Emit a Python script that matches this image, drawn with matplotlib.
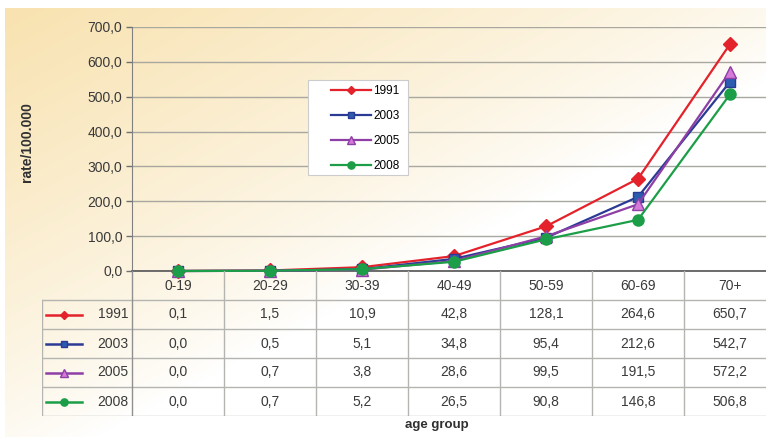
import matplotlib.pyplot as plt
import numpy as np
from matplotlib.patches import Rectangle

plt.rcParams['font.family'] = ['Liberation Sans', 'DejaVu Sans']

# incidence per 100.000 by age group
age_groups = ['0-19', '20-29', '30-39', '40-49', '50-59', '60-69', '70+']
years = ['1991', '2003', '2005', '2008']
rate_1991 = [0.1, 1.5, 10.9, 42.8, 128.1, 264.6, 650.7]
rate_2003 = [0.0, 0.5, 5.1, 34.8, 95.4, 212.6, 542.7]
rate_2005 = [0.0, 0.7, 3.8, 28.6, 99.5, 191.5, 572.2]
rate_2008 = [0.0, 0.7, 5.2, 26.5, 90.8, 146.8, 506.8]
rates = [rate_1991, rate_2003, rate_2005, rate_2008]

styles = [
    dict(color='#e3222b', marker='D', markersize=7, mfc='#e3222b', mec='#e3222b'),
    dict(color='#2b3a94', marker='s', markersize=7, mfc='#2b5cb0', mec='#2b3a94'),
    dict(color='#8e3fa6', marker='^', markersize=8, mfc='#d57ad8', mec='#8e3fa6'),
    dict(color='#1c9e48', marker='o', markersize=8, mfc='#1c9e48', mec='#1c9e48'),
]

def fmt(v):
    return f'{v:.1f}'.replace('.', ',')

W, H = 766, 437
fig = plt.figure(figsize=(W / 100, H / 100), dpi=100)

# cream to white background wash
bg = fig.add_axes([5 / W, 0, 1 - 5 / W, 1 - 8 / H], zorder=-10)
gx, gy = np.meshgrid(np.linspace(0, 1, 300), np.linspace(0, 1, 200))
w = np.clip(1 - 0.85 * gx - 0.9 * gy, 0, 1) ** 0.8
base = np.array([248, 226, 176]) / 255
img = (1 - w[..., None]) * np.ones(3) + w[..., None] * base
bg.imshow(img, aspect='auto', extent=[0, 1, 0, 1], origin='upper')
bg.axis('off')

# geometry in pixels
left, right, top, bottom = 132, 776, 27, 271
col_w = (right - left) / len(age_groups)
lab_left = 42
tab_bottom = 416
txt = '#3a3a3a'

ax = fig.add_axes([left / W, (H - bottom) / H, (right - left) / W, (bottom - top) / H])
ax.set_facecolor('none')
x = np.arange(len(age_groups))
for yr, r, st in zip(years, rates, styles):
    ax.plot(x, r, linewidth=1.6, label=yr, clip_on=False, zorder=3, **st)

ax.set_xlim(-0.5, len(age_groups) - 0.5)
ax.set_ylim(0, 700)
ax.set_yticks(np.arange(0, 701, 100))
ax.set_yticklabels([fmt(v) for v in np.arange(0, 701, 100)])
ax.set_xticks([])
ax.yaxis.grid(True, color='#a8a8a0', linewidth=1)
ax.set_axisbelow(True)
ax.tick_params(axis='y', length=4, width=1, color='#707070', pad=3,
               labelsize=10, labelcolor=txt)
for s in ['top', 'right']:
    ax.spines[s].set_visible(False)
ax.spines['left'].set_color('#808080')
ax.spines['bottom'].set_color('#606060')
ax.spines['bottom'].set_linewidth(1.3)

fig.text(27 / W, 1 - 142 / H, 'rate/100.000', rotation=90, ha='center', va='center',
         fontsize=10, fontweight='bold', color='#303030')

# legend box
ax.add_patch(Rectangle((308 / W, 1 - 175 / H), 100 / W, 95 / H,
                       transform=fig.transFigure, facecolor='white',
                       edgecolor='#cccccc', linewidth=0.8, zorder=5, clip_on=False))
leg = ax.legend(loc='upper left', bbox_to_anchor=(331 / W, 1 - 85 / H),
                bbox_transform=fig.transFigure, frameon=False, fontsize=8.5,
                handlelength=3.4, labelspacing=1.1, borderpad=0, handletextpad=0.2,
                markerscale=0.65, borderaxespad=0)
leg.set_zorder(6)

# data table under the plot
lab_w = (left - lab_left) / col_w
tax = fig.add_axes([lab_left / W, (H - tab_bottom) / H, (right - lab_left) / W,
                    (tab_bottom - bottom) / H])
tax.set_facecolor('none')
tax.set_xlim(-0.5 - lab_w, len(age_groups) - 0.5)
tax.set_ylim(len(years) + 1, 0)
tax.axis('off')
gc = '#b4b4b0'
for j in range(1, len(years) + 2):
    tax.plot([-0.5 - lab_w, len(age_groups) - 0.5], [j, j], color=gc, lw=1)
tax.plot([-0.5 - lab_w] * 2, [1, len(years) + 1], color=gc, lw=1)
tax.plot([-0.5, -0.5], [0, len(years) + 1], color='#909090', lw=1)
for i in range(1, len(age_groups)):
    tax.plot([i - 0.5] * 2, [0, len(years) + 1], color=gc, lw=1)
for i, g in enumerate(age_groups):
    tax.text(i, 0.5, g, ha='center', va='center', fontsize=10, color=txt)
for j, (yr, r, st) in enumerate(zip(years, rates, styles)):
    yy = j + 1.5
    xs = -0.5 - lab_w + np.array([0.04, 0.43])
    tax.plot(xs, [yy, yy], color=st['color'], lw=1.8)
    tax.plot(xs.mean(), yy, marker=st['marker'], markersize=st['markersize'] * 0.65,
             mfc=st['mfc'], mec=st['mec'], color=st['color'])
    tax.text(-0.54, yy, yr, ha='right', va='center', fontsize=10, color=txt)
    for i, v in enumerate(r):
        tax.text(i, yy, fmt(v), ha='center', va='center', fontsize=10, color=txt)

fig.text(437 / W, 1 - 425 / H, 'age group', ha='center', va='center',
         fontsize=9.5, fontweight='bold', color='#303030')

fig.savefig('out.png', dpi=100)
